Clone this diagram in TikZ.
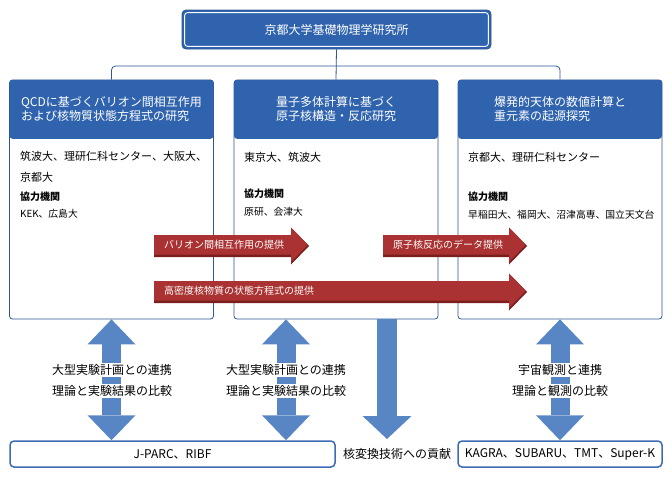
\documentclass[tikz,border=0pt]{standalone}
\usepackage{fontspec}
\setmainfont{Noto Sans CJK JP}
\usetikzlibrary{arrows.meta,positioning,calc}
\definecolor{kyblue}{HTML}{3063AE}
\definecolor{kyline}{HTML}{2D5796}
\definecolor{kyred}{HTML}{AA3232}
\definecolor{kyshadow}{HTML}{7A1E1E}
\definecolor{kysky}{HTML}{5886C5}
\definecolor{kyframe}{HTML}{3D6BB5}
\tikzset{
  instbox/.style={fill=kyblue,draw=kyline,line width=0.8pt,rounded corners=4pt,
    minimum width=309pt,minimum height=39pt,text=white,font=\fontsize{12}{14}\selectfont},
  colbox/.style={draw=kyline,line width=0.8pt,rounded corners=3pt,
    minimum width=204pt,minimum height=239pt},
  headbox/.style={fill=kyblue,rounded corners=3pt,minimum width=204pt,minimum height=59pt,
    text=white,align=left,font=\fontsize{12}{14}\selectfont},
  orgline/.style={draw=kyline,line width=0.8pt,rounded corners=4pt},
  bodytext/.style={anchor=west,align=left,font=\fontsize{11}{20.5}\selectfont},
  cooptitle/.style={anchor=west,font=\fontsize{10}{12}\selectfont\bfseries},
  cooplist/.style={anchor=west,font=\fontsize{9.8}{12}\selectfont},
  redlabel/.style={anchor=west,text=white,font=\fontsize{10}{12}\selectfont},
  skytip/.style={Triangle[width=48pt,length=25pt,line width=0pt,fill=kysky]},
  skyboth/.style={draw=kysky,line width=19pt,{Triangle[width=48pt,length=25pt,line width=0pt,fill=kysky]}-{Triangle[width=48pt,length=25pt,line width=0pt,fill=kysky]}},
  skydown/.style={draw=kysky,line width=20pt,-{Triangle[width=49pt,length=23pt,line width=0pt,fill=kysky]}},
  linklabel/.style={fill=white,inner sep=1pt,font=\fontsize{12}{14}\selectfont},
  facbox/.style={draw=kyframe,line width=1.5pt,rounded corners=4pt,minimum height=26pt,
    font=\fontsize{12}{14}\selectfont},
}
\begin{document}
\begin{tikzpicture}[x=1pt,y=-1pt,every node/.append style={inner sep=0pt}]
\useasboundingbox[fill=white] (0,0) rectangle (672,488);

% institute
\node[instbox] (inst) at (336.5,29.5) {京都大学基礎物理学研究所};
\draw[white,line width=0.9pt,rounded corners=3pt]
  ([shift={(3pt,3pt)}]inst.south west) rectangle ([shift={(-3pt,-3pt)}]inst.north east);

% three groups
\node[colbox] (qcdbox) at (111.5,199.5) {};
\node[colbox] (nucbox) at (336,199.5) {};
\node[colbox] (astrobox) at (560,199.5) {};
\node[headbox,anchor=north] (qcdhead) at (qcdbox.north)
  {QCDに基づくバリオン間相互作用\\および核物質状態方程式の研究};
\node[headbox,anchor=north] (nuchead) at (nucbox.north)
  {量子多体計算に基づく\\原子核構造・反応研究};
\node[headbox,anchor=north] (astrohead) at (astrobox.north)
  {爆発的天体の数値計算と\\重元素の起源探究};

\coordinate (hub) at (336,66);
\draw[orgline] (inst.south) -- (nuchead.north);
\draw[orgline] (hub) -| (qcdhead.north);
\draw[orgline] (hub) -| (astrohead.north);

% members
\node[bodytext] (qcdmain) at (20,167) {筑波大、理研仁科センター、大阪大、\\京都大};
\node[cooptitle] (qcdcoop) at (20,197) {協力機関};
\node[cooplist] (qcdlist) at (20,214) {KEK、広島大};
\node[bodytext] (nucmain) at (244,157) {東京大、筑波大};
\node[cooptitle] (nuccoop) at (244,194) {協力機関};
\node[cooplist] (nuclist) at (244,212) {原研、会津大};
\node[bodytext] (astromain) at (468,157) {京都大、理研仁科センター};
\node[cooptitle] (astrocoop) at (468,197) {協力機関};
\node[cooplist] (astrolist) at (468,215) {早稲田大、福岡大、沼津高専、国立天文台};

% red arrows
\foreach \sx/\ex/\cy in {154/291/246, 383/509/246, 154/509/292}{
  \fill[kyshadow] (\sx,\cy-11) -- (\ex,\cy-11) -- (\ex,\cy-18.5) -- (\ex+18,\cy)
    -- (\ex,\cy+18.5) -- (\ex,\cy+11) -- (\sx,\cy+11) -- cycle;
  \fill[kyred] (\sx,\cy-11) -- (\ex,\cy-11) -- (\ex,\cy-18.5) -- (\ex+16.8,\cy-1.25)
    -- (\ex,\cy+16) -- (\ex,\cy+8.5) -- (\sx,\cy+8.5) -- cycle;
}
\node[redlabel] (baryonlbl) at (164,245) {バリオン間相互作用の提供};
\node[redlabel] (reactlbl) at (393,245) {原子核反応のデータ提供};
\node[redlabel] (eoslbl) at (164,291) {高密度核物質の状態方程式の提供};

% facilities
\node[facbox,minimum width=325pt] (jparc) at (172.5,454) {J-PARC、RIBF};
\node[facbox,minimum width=204pt] (kagra) at (560,454) {KAGRA、SUBARU、TMT、Super-K};
\node[font=\fontsize{12}{14}\selectfont] (contrib) at (397,454) {核変換技術への貢献};

% blue arrows
\coordinate (midexp) at (286,0);
\coordinate (transmute) at (387,439);
\draw[skyboth] (qcdbox.south) -- (qcdbox.south |- jparc.north);
\draw[skyboth] (midexp |- nucbox.south) -- (midexp |- jparc.north);
\draw[skyboth] (astrobox.south) -- (kagra.north);
\draw[skydown] (transmute |- nucbox.south) -- (transmute);

\node[linklabel] (qcdlink) at (112,370) {大型実験計画との連携};
\node[linklabel] (qcdcomp) at (112,391) {理論と実験結果の比較};
\node[linklabel] (nuclink) at (286,370) {大型実験計画との連携};
\node[linklabel] (nuccomp) at (286,391) {理論と実験結果の比較};
\node[linklabel] (astrolink) at (560,370) {宇宙観測と連携};
\node[linklabel] (astrocomp) at (560,391) {理論と観測の比較};
\end{tikzpicture}
\end{document}
